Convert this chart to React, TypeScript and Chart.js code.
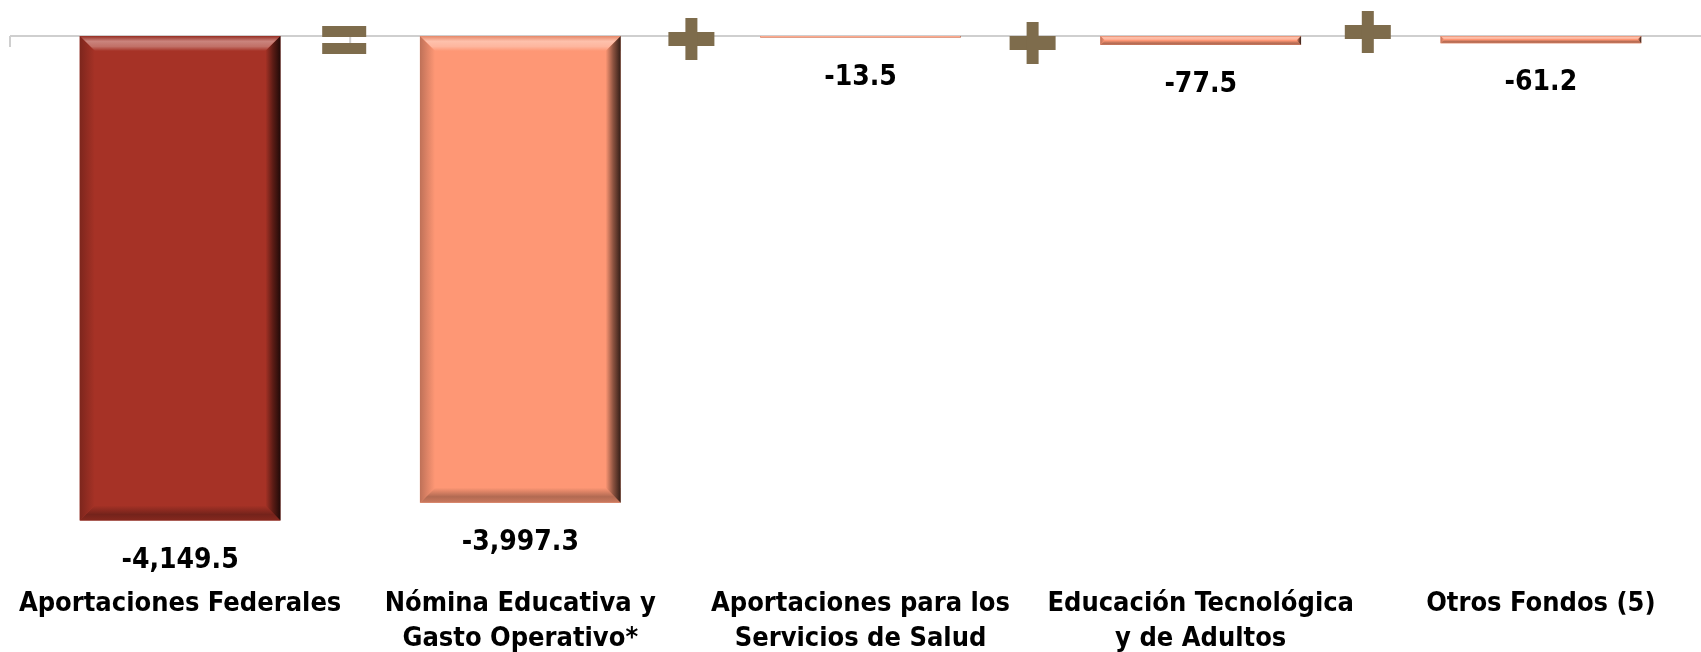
import React, { useEffect, useRef } from "react";
import { Chart, registerables } from "chart.js";

Chart.register(...registerables);

// ---------- data ----------
const categories: string[][] = [
  ["Aportaciones Federales"],
  ["Nómina Educativa y", "Gasto Operativo*"],
  ["Aportaciones para los", "Servicios de Salud"],
  ["Educación Tecnológica", "y de Adultos"],
  ["Otros Fondos (5)"],
];
const values: number[] = [-4149.5, -3997.3, -13.5, -77.5, -61.2];
const operators: string[] = ["=", "+", "+", "+"];

// ---------- styles ----------
const FONT = "'Liberation Sans Narrow', 'DejaVu Sans Condensed', 'Liberation Sans', Arial, sans-serif";
const barColors = ["#A63226", "#FE9775", "#FE9775", "#FE9775", "#FE9775"];
const opColor = "#7E6C4C";
// operator offsets relative to the category boundary / zero line [dx, dy]
const opOffsets: [number, number][] = [[-6, 4], [1, 3], [2, 7], [-3, -4]];

function hexToRgb(h: string): [number, number, number] {
  const n = parseInt(h.slice(1), 16);
  return [(n >> 16) & 255, (n >> 8) & 255, n & 255];
}
function mix(h: string, target: number, t: number): string {
  const [r, g, b] = hexToRgb(h);
  const f = (c: number) => Math.round(c + (target - c) * t);
  return `rgb(${f(r)},${f(g)},${f(b)})`;
}

function fmt(v: number): string {
  const s = Math.abs(v).toFixed(1);
  const [i, d] = s.split(".");
  const withCommas = i.replace(/\B(?=(\d{3})+(?!\d))/g, ",");
  return (v < 0 ? "-" : "") + withCommas + "." + d;
}

const decorPlugin = {
  id: "decor",
  beforeDatasetsDraw(chart: any) {
    const { ctx, chartArea } = chart;
    const xs = chart.scales.x;
    const ys = chart.scales.y;
    const y0 = ys.getPixelForValue(0);
    ctx.save();
    ctx.strokeStyle = "#CFCFCF";
    ctx.lineWidth = 2;
    ctx.beginPath();
    ctx.moveTo(chartArea.left, y0);
    ctx.lineTo(chart.width, y0);
    const n = categories.length;
    const step = n > 1 ? xs.getPixelForValue(1) - xs.getPixelForValue(0) : chartArea.width;
    for (let k = 0; k <= n; k++) {
      const x = xs.getPixelForValue(0) - step / 2 + k * step;
      ctx.moveTo(x, y0);
      ctx.lineTo(x, y0 + 11);
    }
    ctx.stroke();
    ctx.restore();
  },
  afterDatasetsDraw(chart: any) {
    const { ctx } = chart;
    const meta = chart.getDatasetMeta(0);
    const xs = chart.scales.x;
    const ys = chart.scales.y;
    const y0 = ys.getPixelForValue(0);

    // bevel effect
    meta.data.forEach((bar: any, i: number) => {
      const col = barColors[i];
      const w = bar.width;
      const left = bar.x - w / 2;
      const right = bar.x + w / 2;
      const top = Math.min(bar.base, bar.y);
      const bottom = Math.max(bar.base, bar.y);
      const h = bottom - top;
      if (h <= 0) return;
      const b = Math.min(15, h / 2, w / 2);
      ctx.save();
      // top band
      let g = ctx.createLinearGradient(0, top, 0, top + b);
      g.addColorStop(0, mix(col, 0, 0.1));
      g.addColorStop(0.35, mix(col, 255, 0.4));
      g.addColorStop(0.7, mix(col, 255, 0.3));
      g.addColorStop(1, col);
      ctx.fillStyle = g;
      ctx.beginPath();
      ctx.moveTo(left, top);
      ctx.lineTo(right, top);
      ctx.lineTo(right - b, top + b);
      ctx.lineTo(left + b, top + b);
      ctx.closePath();
      ctx.fill();
      // bottom band
      g = ctx.createLinearGradient(0, bottom - b, 0, bottom);
      g.addColorStop(0, col);
      g.addColorStop(0.6, mix(col, 0, 0.3));
      g.addColorStop(1, mix(col, 0, 0.2));
      ctx.fillStyle = g;
      ctx.beginPath();
      ctx.moveTo(left, bottom);
      ctx.lineTo(right, bottom);
      ctx.lineTo(right - b, bottom - b);
      ctx.lineTo(left + b, bottom - b);
      ctx.closePath();
      ctx.fill();
      // left band
      g = ctx.createLinearGradient(left, 0, left + b, 0);
      g.addColorStop(0, mix(col, 0, 0.25));
      g.addColorStop(1, col);
      ctx.fillStyle = g;
      ctx.beginPath();
      ctx.moveTo(left, top);
      ctx.lineTo(left + b, top + b);
      ctx.lineTo(left + b, bottom - b);
      ctx.lineTo(left, bottom);
      ctx.closePath();
      ctx.fill();
      // right band
      g = ctx.createLinearGradient(right - b, 0, right, 0);
      g.addColorStop(0, col);
      g.addColorStop(0.5, mix(col, 0, 0.45));
      g.addColorStop(1, mix(col, 0, 0.8));
      ctx.fillStyle = g;
      ctx.beginPath();
      ctx.moveTo(right, top);
      ctx.lineTo(right, bottom);
      ctx.lineTo(right - b, bottom - b);
      ctx.lineTo(right - b, top + b);
      ctx.closePath();
      ctx.fill();
      ctx.restore();
    });

    // data labels
    ctx.save();
    ctx.fillStyle = "#000";
    ctx.font = `bold 28px ${FONT}`;
    ctx.textAlign = "center";
    ctx.textBaseline = "middle";
    meta.data.forEach((bar: any, i: number) => {
      const yEnd = Math.max(bar.base, bar.y);
      ctx.fillText(fmt(values[i]), bar.x, yEnd + 40);
    });
    ctx.restore();

    // operators between categories
    ctx.save();
    ctx.fillStyle = opColor;
    operators.forEach((op, i) => {
      const xb = (xs.getPixelForValue(i) + xs.getPixelForValue(i + 1)) / 2 + opOffsets[i][0];
      const yc = y0 + opOffsets[i][1];
      const rects: [number, number, number, number][] = [];
      if (op === "=") {
        rects.push([xb - 22, yc - 14, 44, 11]);
        rects.push([xb - 22, yc + 3, 44, 11]);
      } else {
        rects.push([xb - 23, yc - 7, 46, 14]);
        rects.push([xb - 6, yc - 21, 12, 42]);
      }
      rects.forEach(([x, y, w, h]) => ctx.fillRect(x, y, w, h));
    });
    ctx.restore();
  },
};

export default function App() {
  const ref = useRef<HTMLCanvasElement>(null);
  useEffect(() => {
    if (!ref.current) return;
    const chart = new Chart(ref.current, {
      type: "bar",
      data: {
        labels: categories,
        datasets: [
          {
            data: values,
            backgroundColor: barColors,
            borderWidth: 0,
            categoryPercentage: 1,
            barPercentage: 0.59,
          },
        ],
      },
      options: {
        responsive: true,
        maintainAspectRatio: false,
        animation: false,
        layout: { padding: { top: 36, left: 10, right: 0, bottom: -4 } },
        plugins: { legend: { display: false }, tooltip: { enabled: false } },
        scales: {
          x: {
            grid: { display: false },
            border: { display: false },
            ticks: {
              color: "#000",
              padding: 0,
              maxRotation: 0,
              autoSkip: false,
              font: { family: FONT, size: 27, weight: "bold", lineHeight: 35 / 27 },
            },
          },
          y: { display: false, min: -4642, max: 0 },
        },
      },
      plugins: [decorPlugin],
    });
    return () => chart.destroy();
  }, []);
  return (
    <div
      style={{
        position: "fixed",
        left: 0,
        top: 0,
        width: 1701,
        height: 652,
        overflow: "hidden",
        background: "#fff",
      }}
    >
      <div style={{ position: "relative", width: 1711, height: 652 }}>
        <canvas ref={ref} />
      </div>
    </div>
  );
}
